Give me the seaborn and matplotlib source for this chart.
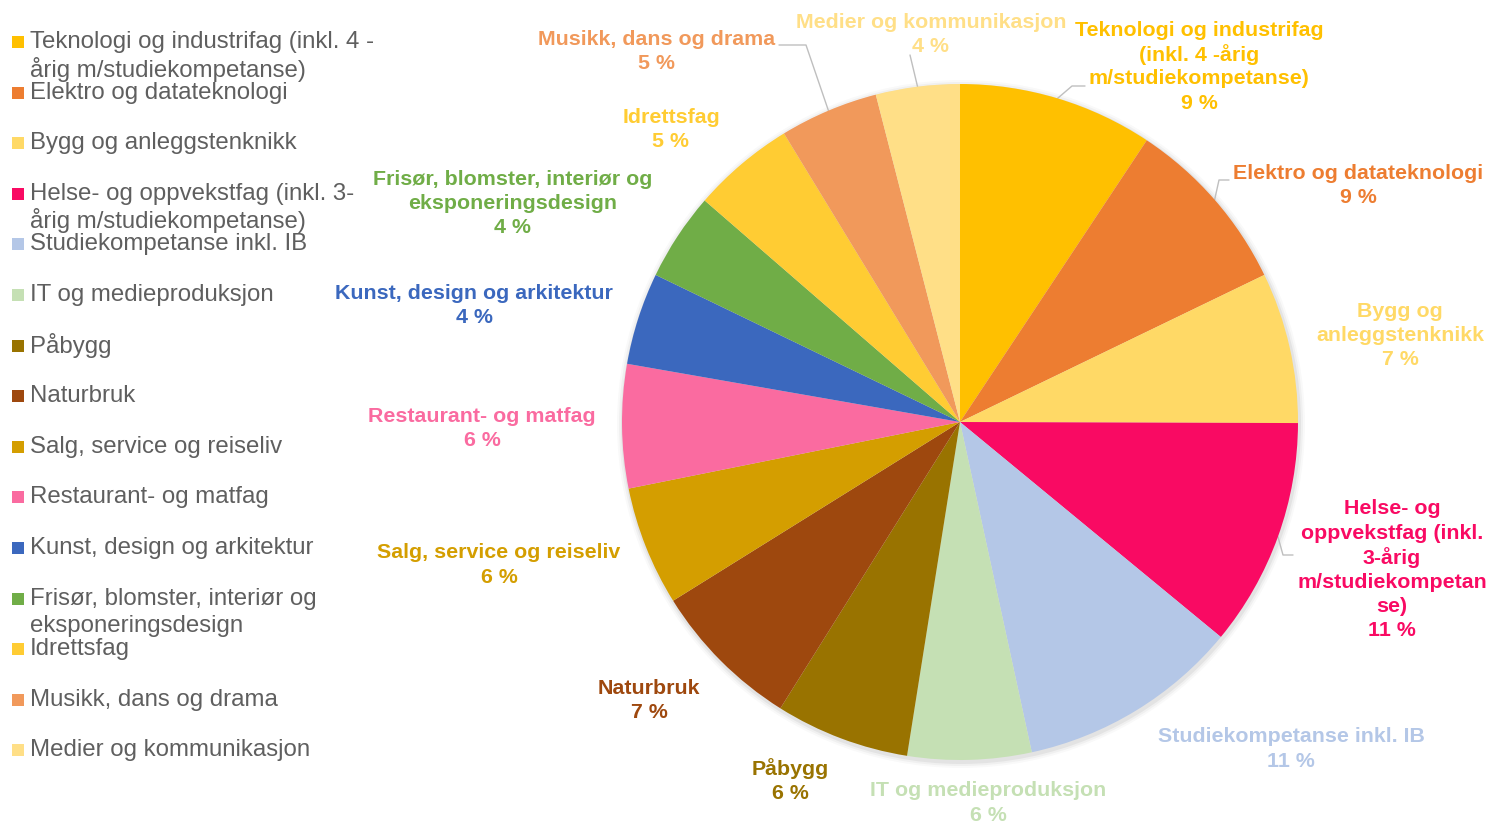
import numpy as np
import seaborn as sns
import matplotlib
matplotlib.use("Agg")
import matplotlib.pyplot as plt
from matplotlib.patches import Rectangle, Circle

# --- data -------------------------------------------------------------
categories = [
    "Teknologi og industrifag (inkl. 4 -årig m/studiekompetanse)",
    "Elektro og datateknologi",
    "Bygg og anleggstenknikk",
    "Helse- og oppvekstfag (inkl. 3-årig m/studiekompetanse)",
    "Studiekompetanse inkl. IB",
    "IT og medieproduksjon",
    "Påbygg",
    "Naturbruk",
    "Salg, service og reiseliv",
    "Restaurant- og matfag",
    "Kunst, design og arkitektur",
    "Frisør, blomster, interiør og eksponeringsdesign",
    "Idrettsfag",
    "Musikk, dans og drama",
    "Medier og kommunikasjon",
]
shares = [9.3, 8.5, 7.2, 10.9, 10.6, 5.9, 6.4, 7.2, 5.7, 5.9, 4.4, 4.2, 4.9, 4.7, 4.0]

# wrapped text as in the legend and the data labels
legend_text = [
    "Teknologi og industrifag (inkl. 4 -\nårig m/studiekompetanse)",
    "Elektro og datateknologi",
    "Bygg og anleggstenknikk",
    "Helse- og oppvekstfag (inkl. 3-\nårig m/studiekompetanse)",
    "Studiekompetanse inkl. IB",
    "IT og medieproduksjon",
    "Påbygg",
    "Naturbruk",
    "Salg, service og reiseliv",
    "Restaurant- og matfag",
    "Kunst, design og arkitektur",
    "Frisør, blomster, interiør og\neksponeringsdesign",
    "Idrettsfag",
    "Musikk, dans og drama",
    "Medier og kommunikasjon",
]
label_text = [
    "Teknologi og industrifag\n(inkl. 4 -årig\nm/studiekompetanse)",
    "Elektro og datateknologi",
    "Bygg og\nanleggstenknikk",
    "Helse- og\noppvekstfag (inkl.\n3-årig\nm/studiekompetan\nse)",
    "Studiekompetanse inkl. IB",
    "IT og medieproduksjon",
    "Påbygg",
    "Naturbruk",
    "Salg, service og reiseliv",
    "Restaurant- og matfag",
    "Kunst, design og arkitektur",
    "Frisør, blomster, interiør og\neksponeringsdesign",
    "Idrettsfag",
    "Musikk, dans og drama",
    "Medier og kommunikasjon",
]

colors = [
    "#FFC000", "#ED7D31", "#FFD966", "#F90A63", "#B4C7E7",
    "#C5E0B4", "#997300", "#9E480E", "#D49E00", "#FA6BA0",
    "#3B68BE", "#70AD47", "#FFCC33", "#F1995B", "#FFDF87",
]

# --- layout (pixel units, y measured from top) -----------------------
W, H = 1490, 821
center_px = (960, 422)
radius_px = 338

# first-line centre of each data label
label_pos = [
    (1199, 30), (1358, 173), (1400, 311), (1392, 509), (1291, 737),
    (988, 791), (790, 769), (649, 688), (499, 553), (482, 416),
    (474, 293), (513, 179), (671, 117), (657, 39), (931, 22),
]
# leader lines: slice index -> remaining points after the slice edge
leaders = {
    0: [(1072, 86), (1085, 86)],
    1: [(1219, 180), (1229, 180)],
    3: [(1283, 555), (1293, 555)],
    13: [(806, 45), (779, 45)],
    14: [(910, 55)],
}

sns.set_theme(style="white")
plt.rcParams["font.family"] = ["Liberation Sans", "DejaVu Sans"]

fig = plt.figure(figsize=(W / 100, H / 100), dpi=100)
ax = fig.add_axes([0, 0, 1, 1])


def fy(y):
    return H - y


cx, cy = center_px[0], fy(center_px[1])

# soft shadow around the pie
for k, a in [(6, 0.025), (4, 0.035), (2, 0.05)]:
    ax.add_patch(Circle((cx + 1, cy - 2), radius_px + k, color="black",
                        alpha=a, lw=0, zorder=0))

wedges, _ = ax.pie(
    shares,
    colors=colors,
    startangle=90,
    counterclock=False,
    center=(cx, cy),
    radius=radius_px,
    wedgeprops=dict(linewidth=0),
)
for w in wedges:
    w.set_zorder(2)

ax.set_xlim(0, W)
ax.set_ylim(0, H)
ax.axis("off")

total = sum(shares)
line_h = 24.4
for i, (txt, (lx, ly)) in enumerate(zip(label_text, label_pos)):
    lines = txt.split("\n") + [f"{round(shares[i] / total * 100)} %"]
    for k, line in enumerate(lines):
        ax.text(lx, fy(ly + k * line_h), line, ha="center", va="center",
                fontsize=15.4, fontweight="bold", color=colors[i], zorder=5)

for i, pts in leaders.items():
    w = wedges[i]
    mid = np.deg2rad((w.theta1 + w.theta2) / 2)
    sx = cx + radius_px * np.cos(mid)
    sy = cy + radius_px * np.sin(mid)
    xs = [sx] + [p[0] for p in pts]
    ys = [sy] + [fy(p[1]) for p in pts]
    ax.plot(xs, ys, color="#BFBFBF", lw=1, zorder=1)

# legend, drawn by hand to keep Excel's fixed row spacing
row_h = 50.6
for i, txt in enumerate(legend_text):
    y0 = 42 + i * row_h
    ax.add_patch(Rectangle((12, fy(y0 + 6)), 12, 12, color=colors[i],
                           lw=0, zorder=5))
    for k, line in enumerate(txt.split("\n")):
        ax.text(30, fy(y0 + k * 27), line, ha="left", va="center",
                fontsize=17.3, color="#5F5F5F", zorder=5)

fig.savefig("out.png", dpi=100, facecolor="white")
